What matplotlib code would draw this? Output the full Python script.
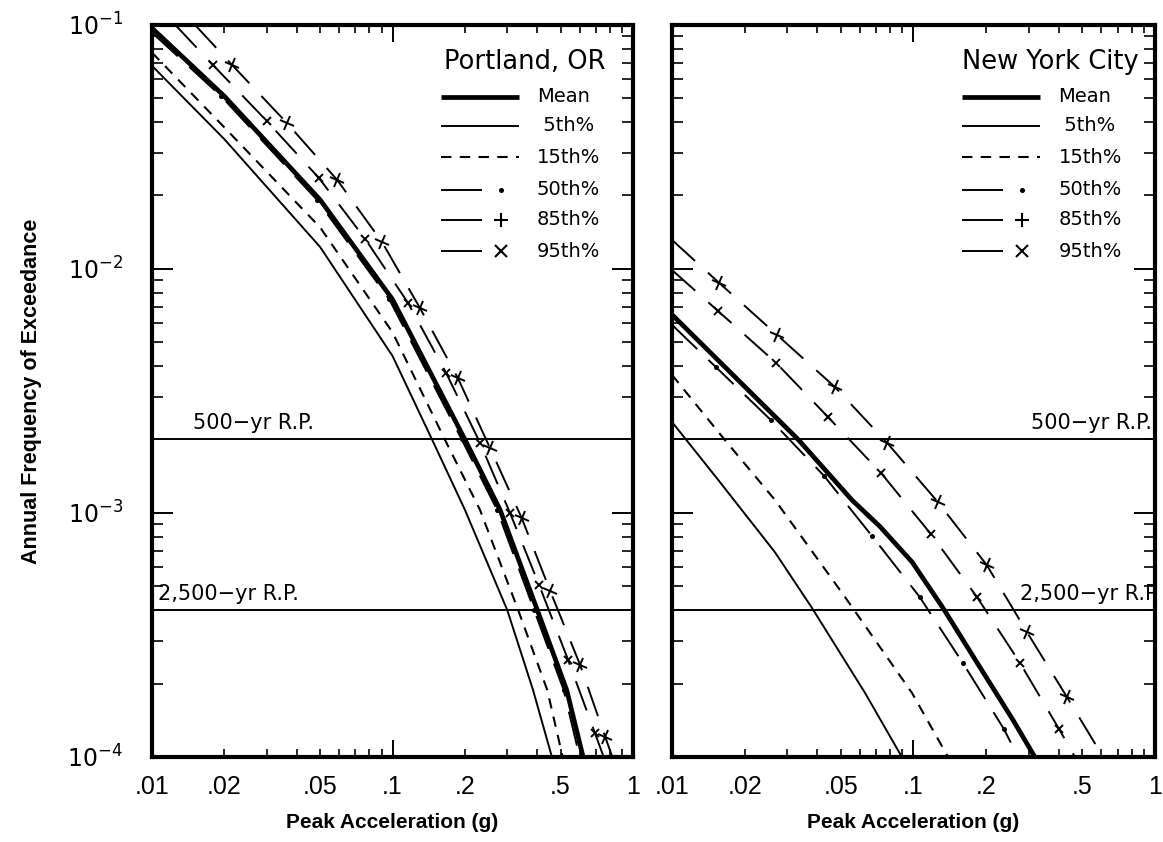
import matplotlib
matplotlib.use('Agg')
import matplotlib.pyplot as plt
from matplotlib import font_manager
from matplotlib.markers import MarkerStyle
from matplotlib.transforms import Affine2D
from matplotlib.ticker import FixedLocator, LogLocator, FuncFormatter, NullFormatter

# ---- Portland, OR : hazard curves ----
pdx_mean_x = [0.01, 0.02, 0.05, 0.1, 0.2, 0.28, 0.4, 0.53, 0.62]
pdx_mean_y = [0.097, 0.051, 0.0192, 0.0075, 0.002, 0.00103, 4.0e-4, 1.88e-4, 1.0e-4]
pdx_p05_x = [0.01, 0.02, 0.05, 0.1, 0.146, 0.2, 0.3, 0.384, 0.46]
pdx_p05_y = [0.068, 0.034, 0.0123, 0.0044, 0.002, 0.00103, 4.0e-4, 1.88e-4, 1.0e-4]
pdx_p15_x = [0.01, 0.02, 0.05, 0.1, 0.165, 0.231, 0.333, 0.44, 0.51]
pdx_p15_y = [0.077, 0.038, 0.0148, 0.0055, 0.002, 0.00103, 4.0e-4, 1.88e-4, 1.0e-4]
pdx_p50_x = [0.01, 0.0194, 0.0485, 0.097, 0.194, 0.272, 0.388, 0.515, 0.60]
pdx_p50_y = [0.093, 0.051, 0.0192, 0.0075, 0.002, 0.00103, 4.0e-4, 1.88e-4, 1.0e-4]
pdx_p85_x = [0.0125, 0.0179, 0.030, 0.0494, 0.0769, 0.116, 0.167, 0.231, 0.308, 0.407, 0.537, 0.695, 0.755]
pdx_p85_y = [0.1, 0.0686, 0.0404, 0.0236, 0.0133, 0.00726, 0.00375, 0.00194, 0.0010, 5.07e-4, 2.5e-4, 1.25e-4, 1.0e-4]
pdx_p95_x = [0.0151, 0.0215, 0.0364, 0.0588, 0.0904, 0.130, 0.187, 0.254, 0.345, 0.452, 0.603, 0.766, 0.82]
pdx_p95_y = [0.1, 0.0686, 0.0396, 0.0232, 0.0129, 0.00692, 0.00357, 0.00185, 9.5e-4, 4.8e-4, 2.38e-4, 1.21e-4, 1.0e-4]

# ---- New York City : hazard curves ----
nyc_mean_x = [0.01, 0.0333, 0.0556, 0.0726, 0.0986, 0.1325, 0.188, 0.258, 0.318]
nyc_mean_y = [0.0065, 0.002, 0.00113, 8.8e-4, 6.3e-4, 4.08e-4, 2.34e-4, 1.42e-4, 1.0e-4]
nyc_p05_x = [0.01, 0.0155, 0.0267, 0.038, 0.063, 0.0895]
nyc_p05_y = [0.00236, 0.00137, 6.9e-4, 4.08e-4, 1.83e-4, 1.0e-4]
nyc_p15_x = [0.01, 0.01656, 0.0267, 0.052, 0.0986, 0.139]
nyc_p15_y = [0.00368, 0.00199, 0.00113, 4.53e-4, 1.83e-4, 1.0e-4]
nyc_p50_x = [0.01, 0.0152, 0.0257, 0.0426, 0.0673, 0.106, 0.160, 0.237, 0.271]
nyc_p50_y = [0.0059, 0.00396, 0.0024, 0.00142, 8.05e-4, 4.53e-4, 2.43e-4, 1.30e-4, 1.0e-4]
nyc_p85_x = [0.01, 0.0155, 0.027, 0.0443, 0.0733, 0.118, 0.183, 0.276, 0.401, 0.466]
nyc_p85_y = [0.0099, 0.00673, 0.00412, 0.00247, 0.00146, 8.2e-4, 4.53e-4, 2.43e-4, 1.30e-4, 1.0e-4]
nyc_p95_x = [0.01, 0.01567, 0.0272, 0.0473, 0.0777, 0.126, 0.201, 0.295, 0.432, 0.61]
nyc_p95_y = [0.01315, 0.00877, 0.00537, 0.00328, 0.00194, 0.00111, 6.12e-4, 3.25e-4, 1.76e-4, 1.0e-4]

# return periods (years) and their labels
rp_years = [500, 2500]
rp_labels = ['500\u2212yr R.P.', '2,500\u2212yr R.P.']

series_keys = ['mean', 'p05', 'p15', 'p50', 'p85', 'p95']
legend_labels = ['Mean', ' 5th%', '15th%', '50th%', '85th%', '95th%']

xtick_vals = [0.01, 0.02, 0.05, 0.1, 0.2, 0.5, 1]
xtick_labels = ['.01', '.02', '.05', '.1', '.2', '.5', '1']
ytick_vals = [1e-4, 1e-3, 1e-2, 1e-1]
ytick_labels = ['$10^{-4}$', '$10^{-3}$', '$10^{-2}$', '$10^{-1}$']

names = {f.name for f in font_manager.fontManager.ttflist}
NARROW = 'Liberation Sans Narrow' if 'Liberation Sans Narrow' in names else 'Liberation Sans'
plt.rcParams['font.family'] = ['DejaVu Sans']
plt.rcParams['mathtext.fontset'] = 'dejavusans'

tilted_plus = MarkerStyle('+', transform=Affine2D().rotate_deg(-20))
styles = {
    'mean': dict(lw=3.4, ls='-'),
    'p05': dict(lw=1.4, ls='-'),
    'p15': dict(lw=1.5, dashes=(5, 4)),
    'p50': dict(lw=1.4, dashes=(18, 8), marker='o', ms=2.6),
    'p85': dict(lw=1.4, dashes=(16, 9), marker='x', ms=6, mew=1.4),
    'p95': dict(lw=1.4, dashes=(16, 9), marker=tilted_plus, ms=11, mew=1.4),
}

fig = plt.figure(figsize=(11.63, 8.42), dpi=100)
ax1 = fig.add_axes([0.1307, 0.1010, 0.4136, 0.8694])
ax2 = fig.add_axes([0.5778, 0.1010, 0.4153, 0.8694])

panels = [
    (ax1, 'Portland, OR', 0.942,
     {'mean': (pdx_mean_x, pdx_mean_y), 'p05': (pdx_p05_x, pdx_p05_y),
      'p15': (pdx_p15_x, pdx_p15_y), 'p50': (pdx_p50_x, pdx_p50_y),
      'p85': (pdx_p85_x, pdx_p85_y), 'p95': (pdx_p95_x, pdx_p95_y)}),
    (ax2, 'New York City', 0.966,
     {'mean': (nyc_mean_x, nyc_mean_y), 'p05': (nyc_p05_x, nyc_p05_y),
      'p15': (nyc_p15_x, nyc_p15_y), 'p50': (nyc_p50_x, nyc_p50_y),
      'p85': (nyc_p85_x, nyc_p85_y), 'p95': (nyc_p95_x, nyc_p95_y)}),
]

label_map = dict(zip(xtick_vals, xtick_labels))


def xfmt(v, pos):
    for k, lab in label_map.items():
        if abs(v - k) < 1e-9 * max(k, 1e-9) + 1e-12:
            return lab
    return ''


key_rows = [0.902, 0.862, 0.819, 0.775, 0.734, 0.691]

for i, (ax, title, title_x, data) in enumerate(panels):
    ax.set_xscale('log')
    ax.set_yscale('log')
    for key in series_keys:
        xs, ys = data[key]
        st = dict(styles[key])
        if 'marker' in st:
            st['markevery'] = slice(1, -1)
        ax.plot(xs, ys, color='k', solid_capstyle='butt', dash_capstyle='butt', **st)

    for yrs in rp_years:
        ax.axhline(1.0 / yrs, color='k', lw=1.4)
    ytr = ax.get_yaxis_transform()
    if i == 0:
        ax.text(0.085, 1.0 / rp_years[0] * 1.06, rp_labels[0], transform=ytr,
                ha='left', va='bottom', fontsize=15)
        ax.text(0.012, 1.0 / rp_years[1] * 1.06, rp_labels[1], transform=ytr,
                ha='left', va='bottom', fontsize=15)
    else:
        ax.text(0.994, 1.0 / rp_years[0] * 1.06, rp_labels[0], transform=ytr,
                ha='right', va='bottom', fontsize=15)
        ax.text(1.012, 1.0 / rp_years[1] * 1.06, rp_labels[1], transform=ytr,
                ha='right', va='bottom', fontsize=15, clip_on=True)

    # hand drawn key, as in the original figure
    ax.text(title_x, 0.949, title, transform=ax.transAxes, ha='right', va='center', fontsize=18.5)
    for j, key in enumerate(series_keys):
        yk = key_rows[j]
        st = styles[key]
        if j < 3:
            seg = dict(lw=st['lw'])
            if 'dashes' in st:
                seg['dashes'] = st['dashes']
            ax.plot([0.60, 0.762], [yk, yk], transform=ax.transAxes, color='k',
                    solid_capstyle='butt', dash_capstyle='butt', clip_on=False, **seg)
        else:
            ax.plot([0.60, 0.685], [yk, yk], transform=ax.transAxes, color='k',
                    lw=st['lw'], solid_capstyle='butt', clip_on=False)
            mk = {'p50': dict(marker='o', ms=2.6), 'p85': dict(marker='+', ms=10, mew=1.5),
                  'p95': dict(marker='x', ms=8, mew=1.5)}[key]
            ax.plot([0.725], [yk], transform=ax.transAxes, color='k', ls='none',
                    clip_on=False, **mk)
        ax.text(0.80, yk, legend_labels[j], transform=ax.transAxes, ha='left', va='center',
                fontsize=14)

    ax.set_xlim(0.01, 1)
    ax.set_ylim(1e-4, 1e-1)

    ax.xaxis.set_major_locator(FixedLocator([0.01, 0.1, 1]))
    ax.xaxis.set_minor_locator(LogLocator(base=10, subs=[2, 3, 4, 5, 6, 7, 8, 9], numticks=20))
    ax.xaxis.set_major_formatter(FuncFormatter(xfmt))
    ax.xaxis.set_minor_formatter(FuncFormatter(xfmt))

    ax.yaxis.set_major_locator(FixedLocator(ytick_vals))
    ax.yaxis.set_minor_locator(LogLocator(base=10, subs=[2, 3, 4, 5, 6, 7, 8, 9], numticks=20))
    ax.yaxis.set_minor_formatter(NullFormatter())
    if i == 0:
        ax.set_yticklabels(ytick_labels)
    else:
        ax.yaxis.set_major_formatter(NullFormatter())

    ax.tick_params(axis='x', which='major', direction='in', length=12, width=1.4,
                   top=True, labelsize=18, pad=13)
    ax.tick_params(axis='x', which='minor', direction='in', length=6, width=1.2,
                   top=True, labelsize=18, pad=13)
    ax.tick_params(axis='y', which='major', direction='in', length=15, width=1.4,
                   right=True, labelsize=17, pad=21)
    ax.tick_params(axis='y', which='minor', direction='in', length=8, width=1.2, right=True)
    for lab in ax.get_xticklabels(which='both'):
        lab.set_family(NARROW)

    for sp in ax.spines.values():
        sp.set_linewidth(3)

    ax.set_xlabel('Peak Acceleration (g)', family=NARROW, fontweight='bold', fontsize=15)
    ax.xaxis.set_label_coords(0.5, -0.076)

ax1.set_ylabel('Annual Frequency of Exceedance', family='Liberation Sans', fontweight='bold',
               fontsize=15.5)
ax1.yaxis.set_label_coords(-0.229, 0.5)

fig.savefig('out.png', dpi=100)
